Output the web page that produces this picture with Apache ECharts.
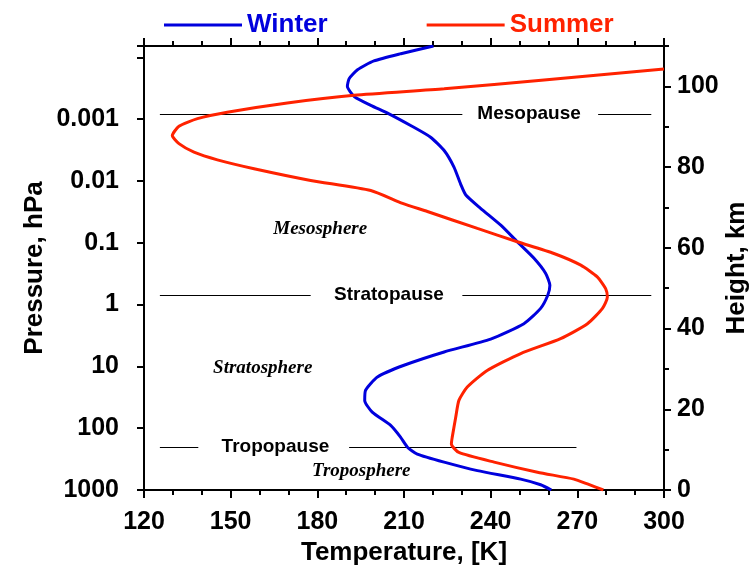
<!DOCTYPE html>
<html>
<head>
<meta charset="utf-8">
<script src="https://cdn.jsdelivr.net/npm/echarts@6/dist/echarts.min.js"></script>
<style>
  html, body { margin: 0; padding: 0; background: #fff; }
  #chart { width: 750px; height: 567px; }
</style>
</head>
<body>
<div id="chart"></div>
<script>
// Temperature profiles (K) against geometric height (km)
const winterHeight = [0, 1.3, 2.7, 4.8, 6.9, 8.9, 10.6, 13.1, 16, 19.3, 22.2, 24.7, 28, 30.9, 34.2, 37.4, 41.2, 45, 48.3, 50.7, 53.7, 57.4, 61.5, 65.6, 69.8, 73.1, 75.8, 80, 84.1, 87.4, 90.3, 93.2, 95.3, 97.4, 100, 101.9, 104.1, 106.3, 108.1, 110];
const winterTemp   = [261, 257.3, 250.4, 235.4, 223.9, 214.6, 211.2, 208.8, 205.4, 199, 196.4, 196.7, 200.8, 210, 223.9, 240, 251.5, 257.3, 259.8, 260.5, 259, 255, 249.2, 243.5, 236.5, 231.4, 229.6, 227.3, 223.9, 219.2, 212.3, 204.8, 198.5, 192.9, 190.4, 191, 193.9, 199.6, 208.9, 220.2];

const summerHeight = [0, 1.5, 2.7, 4.4, 6.9, 9.3, 11.4, 13.1, 18, 22.2, 25.5, 29.6, 33.8, 37.5, 41.2, 45, 47.8, 49.9, 52.8, 55.7, 58.6, 61.5, 64.8, 69, 71, 74.2, 76.7, 79.6, 81.8, 83.7, 85.8, 87.8, 90.1, 92, 93.6, 95.9, 97.8, 99.4, 101.6, 104.3];
const summerTemp   = [279, 273.5, 268.8, 256.2, 241.2, 229, 226.4, 226.7, 227.9, 229, 231.9, 238.8, 250.4, 264.2, 273.5, 278.7, 280.4, 279.8, 276.9, 271.2, 261.9, 249.2, 235.4, 218.1, 209.5, 198.5, 177.7, 158.1, 145.4, 137.3, 132.1, 129.8, 132.1, 138.5, 148.8, 169.6, 192.7, 223.9, 258.5, 300];

// Boundary layers: height (km), label centre (K), line segments (K) left and right of the label
const boundaryNames    = ['Mesopause', 'Stratopause', 'Tropopause'];
const boundaryHeights  = [93.2, 48.3, 10.7];
const boundaryLabelT   = [253.3, 204.8, 165.5];
const boundarySegments = [
  [[125.5, 230.2], [277.2, 295.6]],
  [[125.5, 177.7], [230.2, 295.6]],
  [[125.5, 138.8], [191.0, 269.7]]
];

// Layer names
const layerNames   = ['Mesosphere', 'Stratosphere', 'Troposphere'];
const layerTemp    = [181, 161.1, 195.2];
const layerHeights = [64.6, 30.2, 4.7];

// Axis ticks
const pressureLabels = [0.001, 0.01, 0.1, 1, 10, 100, 1000];
const tempMin = 120, tempMax = 300, tempStep = 30;
const heightMin = 0, heightMax = 110, heightStep = 20;
const pressureTop = 6.55e-5, pressureBottom = 1000;

const BLUE = '#0000dd';
const RED = '#ff2200';
const FONT = "'Liberation Sans', Arial, sans-serif";
const SERIF = "'Liberation Serif', 'Times New Roman', serif";

const zip = (xs, ys) => xs.map((x, i) => [x, ys[i]]);

const segData = [];
boundarySegments.forEach((segs, i) => {
  segs.forEach(s => segData.push({ coords: [[s[0], boundaryHeights[i]], [s[1], boundaryHeights[i]]] }));
});

const axisLine = () => ({ show: true, onZero: false, lineStyle: { color: '#000', width: 2 } });
const tickStyle = { color: '#000', width: 2 };

const textLabel = (size, weight, style, family, color) => ({
  show: true, position: 'inside', formatter: '{b}',
  fontSize: size, fontWeight: weight, fontStyle: style, fontFamily: family,
  color: color, opacity: 1, textBorderWidth: 0, align: 'center', verticalAlign: 'middle'
});

const chart = echarts.init(document.getElementById('chart'));
chart.setOption({
  animation: false,
  backgroundColor: '#fff',
  grid: {
    left: 144, right: 86, top: 46, bottom: 77, containLabel: false, outerBoundsMode: 'none',
    show: true, borderColor: '#000', borderWidth: 2, backgroundColor: 'transparent'
  },
  legend: {
    left: 159, top: 7,
    icon: 'rect', itemWidth: 78, itemHeight: 3, itemGap: 99,
    textStyle: { fontSize: 26, fontWeight: 'bold', fontFamily: FONT },
    data: [
      { name: 'Winter', textStyle: { color: BLUE } },
      { name: 'Summer', textStyle: { color: RED } }
    ]
  },
  xAxis: [
    {
      type: 'value', position: 'bottom', min: tempMin, max: tempMax, interval: tempStep,
      name: 'Temperature, [K]', nameLocation: 'middle', nameGap: 50, nameMoveOverlap: false,
      nameTextStyle: { fontSize: 26, fontWeight: 'bold', color: '#000', fontFamily: FONT },
      axisLine: axisLine(),
      axisTick: { show: true, length: 8, lineStyle: tickStyle },
      minorTick: { show: true, splitNumber: 3, length: 5, lineStyle: tickStyle },
      axisLabel: { fontSize: 25, fontWeight: 'bold', color: '#000', fontFamily: FONT, margin: 20 },
      splitLine: { show: false }
    },
    {
      type: 'value', position: 'top', min: tempMin, max: tempMax, interval: tempStep,
      axisLine: axisLine(),
      axisTick: { show: true, length: 8, lineStyle: tickStyle },
      minorTick: { show: true, splitNumber: 3, length: 5, lineStyle: tickStyle },
      axisLabel: { show: false },
      splitLine: { show: false }
    }
  ],
  yAxis: [
    {
      type: 'log', logBase: 10, position: 'left', inverse: true,
      min: pressureTop, max: pressureBottom,
      name: 'Pressure, hPa', nameLocation: 'middle', nameGap: 96, nameRotate: 90, nameMoveOverlap: false,
      nameTextStyle: { fontSize: 26, fontWeight: 'bold', color: '#000', fontFamily: FONT },
      axisLine: axisLine(),
      axisTick: { show: true, length: 7, lineStyle: tickStyle },
      axisLabel: {
        fontSize: 25, fontWeight: 'bold', color: '#000', fontFamily: FONT, margin: 25,
        formatter: v => {
          const hit = pressureLabels.find(p => Math.abs(Math.log10(v) - Math.log10(p)) < 0.01);
          return hit === undefined ? '' : String(hit);
        }
      },
      splitLine: { show: false }
    },
    {
      type: 'value', position: 'right', min: heightMin, max: heightMax, interval: heightStep,
      name: 'Height, km', nameLocation: 'middle', nameGap: 60, nameRotate: 90, nameMoveOverlap: false,
      nameTextStyle: { fontSize: 26, fontWeight: 'bold', color: '#000', fontFamily: FONT },
      axisLine: axisLine(),
      axisTick: { show: true, length: 7, lineStyle: tickStyle },
      axisLabel: { fontSize: 25, fontWeight: 'bold', color: '#000', fontFamily: FONT, margin: 13, showMaxLabel: false },
      splitLine: { show: false }
    },
    {
      type: 'value', position: 'right', min: heightMin, max: heightMax, interval: heightStep / 2,
      axisLine: { show: false },
      axisTick: { show: true, length: 5, lineStyle: tickStyle },
      axisLabel: { show: false },
      splitLine: { show: false }
    }
  ],
  series: [
    {
      name: 'boundaries', type: 'lines', coordinateSystem: 'cartesian2d',
      xAxisIndex: 0, yAxisIndex: 1, silent: true,
      lineStyle: { color: '#000', width: 1, opacity: 1 },
      data: segData
    },
    {
      name: 'boundary labels', type: 'scatter', xAxisIndex: 0, yAxisIndex: 1,
      symbolSize: 0, itemStyle: { color: '#000', opacity: 1 }, silent: true,
      label: textLabel(19, 'bold', 'normal', FONT, '#000'),
      data: boundaryNames.map((n, i) => ({ name: n, value: [boundaryLabelT[i], boundaryHeights[i]] }))
    },
    {
      name: 'layer labels', type: 'scatter', xAxisIndex: 0, yAxisIndex: 1,
      symbolSize: 0, itemStyle: { color: '#000', opacity: 1 }, silent: true,
      label: textLabel(19, 'bold', 'italic', SERIF, '#000'),
      data: layerNames.map((n, i) => ({ name: n, value: [layerTemp[i], layerHeights[i]] }))
    },
    {
      name: 'Winter', type: 'line', xAxisIndex: 0, yAxisIndex: 1,
      showSymbol: false, smooth: 0.2, color: BLUE,
      lineStyle: { color: BLUE, width: 3 },
      data: zip(winterTemp, winterHeight)
    },
    {
      name: 'Summer', type: 'line', xAxisIndex: 0, yAxisIndex: 1,
      showSymbol: false, smooth: 0.2, color: RED,
      lineStyle: { color: RED, width: 3 },
      data: zip(summerTemp, summerHeight)
    }
  ]
});
</script>
</body>
</html>
